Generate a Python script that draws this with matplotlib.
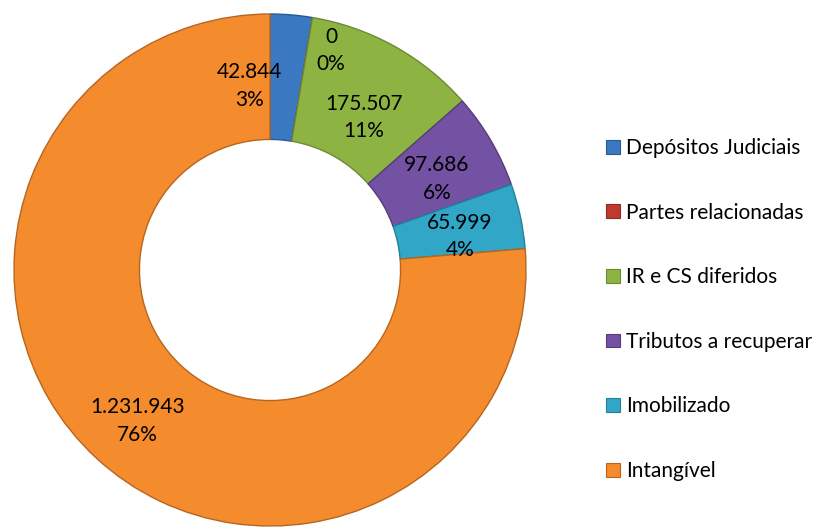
import numpy as np
import matplotlib.pyplot as plt
from matplotlib.patches import Patch

categories = ['Depósitos Judiciais', 'Partes relacionadas', 'IR e CS diferidos',
              'Tributos a recuperar', 'Imobilizado', 'Intangível']
values = [42844, 0, 175507, 97686, 65999, 1231943]
value_labels = ['42.844', '0', '175.507', '97.686', '65.999', '1.231.943']
pct_labels = ['3%', '0%', '11%', '6%', '4%', '76%']

colors = ['#3b78c2', '#c0392f', '#8db443', '#7352a3', '#32a6c7', '#f48b2c']
edge_colors = ['#2a5a96', '#8e2a22', '#6c8a33', '#553c7a', '#23809b', '#b86520']

# label placement (angle shift in degrees, radius) - Excel moved a few around
label_shift = [11, -6, -2.5, -1.8, -2.1, 1.4]
label_radius = [0.723, 0.889, 0.698, 0.743, 0.754, 0.784]

plt.rcParams['font.family'] = ['Lato', 'DejaVu Sans']

fig = plt.figure(figsize=(8.21, 5.30), dpi=100)
cx, cy, r = 270, 270, 256
W, H = 821, 530
ax = fig.add_axes([(cx - r) / W, (H - cy - r) / H, 2 * r / W, 2 * r / H])

wedges, _ = ax.pie(values, colors=colors, startangle=90, counterclock=False,
                   radius=1.0, wedgeprops=dict(width=0.49, linewidth=1.0))
for w, ec in zip(wedges, edge_colors):
    w.set_edgecolor(ec)

total = sum(values)
angle = 90.0
for i, v in enumerate(values):
    span = 360.0 * v / total
    mid = np.deg2rad(angle - span / 2 + label_shift[i])
    rr = label_radius[i]
    ax.text(rr * np.cos(mid), rr * np.sin(mid), value_labels[i] + '\n' + pct_labels[i],
            ha='center', va='center', fontsize=15, linespacing=1.45, color='black')
    angle -= span

ax.set_xlim(-1, 1)
ax.set_ylim(-1, 1)
ax.axis('off')

handles = [Patch(facecolor=c, edgecolor=e, linewidth=0.8) for c, e in zip(colors, edge_colors)]
fig.legend(handles, categories, loc='center left', bbox_to_anchor=(0.728, 0.416),
           frameon=False, fontsize=15, handlelength=0.65, handleheight=0.65,
           handletextpad=0.3, labelspacing=2.14, borderaxespad=0)

fig.savefig('out.png', dpi=100)
